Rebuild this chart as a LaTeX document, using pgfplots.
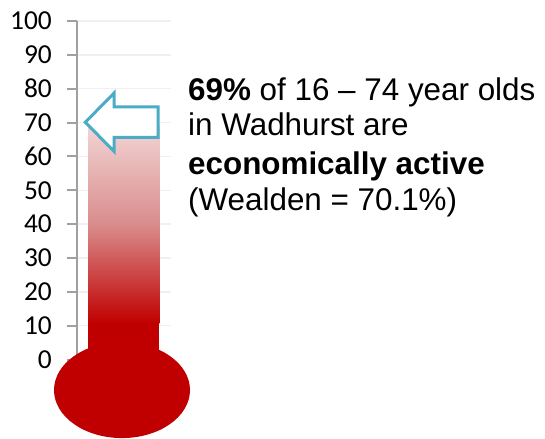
\documentclass[border=0pt]{standalone}
\usepackage{fontspec}
\setmainfont{Liberation Sans}
\newfontfamily\tickfont{Carlito}
\usepackage{pgfplots}
\pgfplotsset{compat=1.18}
\definecolor{thred}{RGB}{192,0,0}
\definecolor{thpale}{RGB}{242,212,212}
\definecolor{thmid}{RGB}{217,140,140}
\definecolor{arrowc}{RGB}{75,172,198}
\definecolor{axgray}{RGB}{160,160,160}
\definecolor{gridc}{RGB}{240,240,240}
\begin{document}
\begin{tikzpicture}[x=1bp,y=1bp]
\useasboundingbox (0,0) rectangle (545,439);
\begin{axis}[at={(77bp,79.4bp)}, anchor=south west, scale only axis,
  width=94bp, height=338.6bp, xmin=0, xmax=94, ymin=0, ymax=100,
  hide x axis, axis y line*=left,
  ytick={0,10,...,100}, ymajorgrids,
  grid style={color=gridc, line width=1.5bp},
  y axis line style={color=axgray, line width=2bp},
  major tick style={color=axgray, line width=2bp},
  tick align=outside, major tick length=10bp, clip=false,
  yticklabel={\tickfont\fontsize{27.5}{27.5}\selectfont\pgfmathprintnumber[assume math mode=true]{\tick}},
  yticklabel style={inner sep=0pt, xshift=-15bp}]
\addplot[draw=none, fill=thred, mark=none] coordinates {(11.3,0) (82.3,0) (82.3,11.2) (11.3,11.2)} -- cycle;
\addplot[draw=none, top color=thpale, bottom color=thred, middle color=thmid, mark=none] coordinates {(11.3,10.8) (82.3,10.8) (82.3,69) (11.3,69)} -- cycle;
\fill[thred] (axis cs:45,-9) ellipse [x radius=68bp, y radius=48bp];
\addplot[draw=arrowc, fill=white, line width=3bp, mark=none, line join=miter] coordinates {(8.3,70.1) (37,78.7) (37,74.6) (81,74.6) (81,65.6) (37,65.6) (37,61.5)} -- cycle;
\end{axis}
\begin{scope}[every node/.style={anchor=base west, inner sep=0pt, font=\fontsize{31.5}{36}\selectfont}]
\node at (188,338) {\textbf{69\%} of 16 – 74 year olds};
\node at (188,303) {in Wadhurst are};
\node at (188,264) {\textbf{economically active}};
\node at (188,228.5) {(Wealden = 70.1\%)};
\end{scope}
\end{tikzpicture}
\end{document}
